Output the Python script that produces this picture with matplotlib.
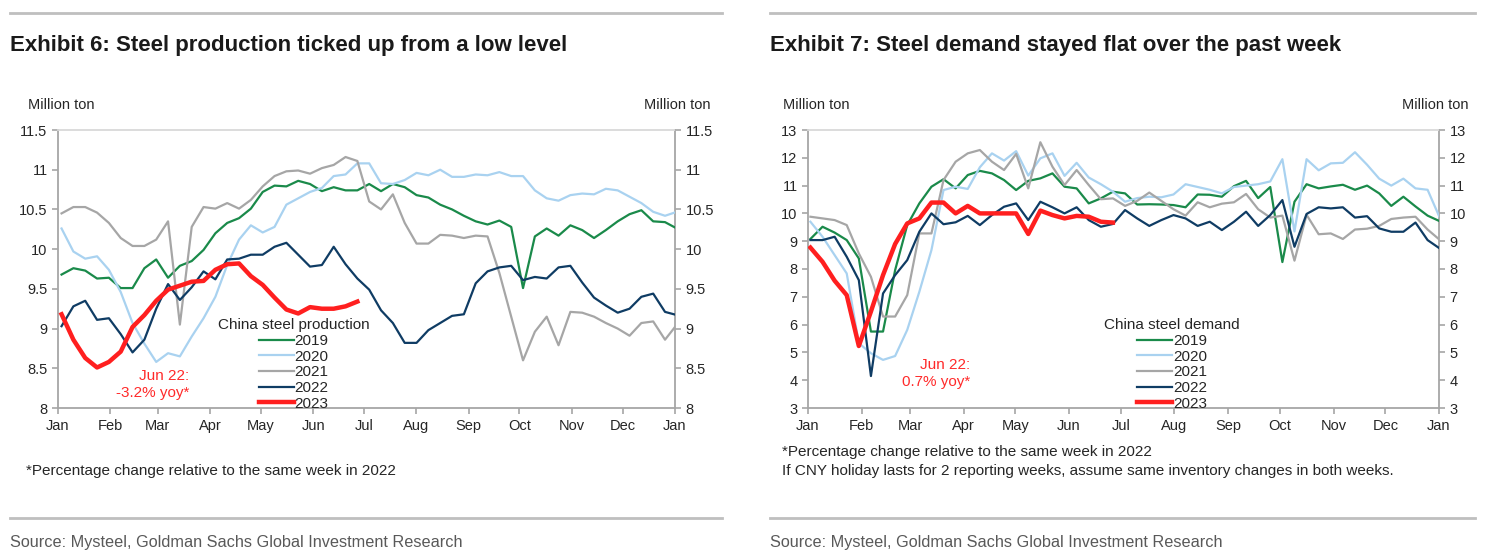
import numpy as np
import matplotlib
matplotlib.use("Agg")
import matplotlib.pyplot as plt

plt.rcParams['font.family'] = ['Liberation Sans', 'DejaVu Sans']

# month ticks (in weeks from 1 Jan)
month_days = [0, 31, 59, 90, 120, 151, 181, 212, 243, 273, 304, 334, 365]
month_labels = ["Jan", "Feb", "Mar", "Apr", "May", "Jun", "Jul", "Aug", "Sep", "Oct", "Nov", "Dec", "Jan"]

# Exhibit 6: China steel production, million ton, weekly
prod_2019 = [9.68, 9.76, 9.73, 9.63, 9.64, 9.51, 9.51, 9.76, 9.87, 9.64, 9.79, 9.85, 9.99, 10.20, 10.33, 10.39,
             10.51, 10.72, 10.80, 10.79, 10.86, 10.82, 10.73, 10.78, 10.74, 10.74, 10.82, 10.73, 10.82, 10.78,
             10.68, 10.65, 10.56, 10.50, 10.42, 10.35, 10.31, 10.36, 10.28, 9.51, 10.16, 10.26, 10.17, 10.30,
             10.24, 10.14, 10.24, 10.35, 10.44, 10.49, 10.35, 10.34, 10.26]
prod_2020 = [10.26, 9.97, 9.88, 9.91, 9.74, 9.46, 9.07, 8.81, 8.58, 8.69, 8.65, 8.90, 9.13, 9.40, 9.80, 10.12,
             10.30, 10.21, 10.28, 10.56, 10.64, 10.72, 10.77, 10.92, 10.94, 11.08, 11.08, 10.83, 10.82, 10.87,
             10.96, 10.93, 11.00, 10.91, 10.91, 10.94, 10.93, 10.97, 10.92, 10.92, 10.74, 10.64, 10.61, 10.68,
             10.70, 10.69, 10.76, 10.74, 10.66, 10.58, 10.47, 10.42, 10.47]
prod_2021 = [10.45, 10.53, 10.53, 10.46, 10.33, 10.14, 10.04, 10.04, 10.12, 10.35, 9.05, 10.28, 10.53, 10.51,
             10.58, 10.51, 10.62, 10.79, 10.92, 10.98, 10.99, 10.95, 11.02, 11.06, 11.16, 11.11, 10.60, 10.50,
             10.69, 10.33, 10.07, 10.07, 10.18, 10.17, 10.14, 10.17, 10.16, 9.70, 9.15, 8.60, 8.96, 9.15, 8.79,
             9.21, 9.20, 9.15, 9.07, 9.00, 8.91, 9.07, 9.09, 8.86, 9.05]
prod_2022 = [9.03, 9.28, 9.35, 9.11, 9.13, 8.93, 8.70, 8.86, 9.25, 9.56, 9.36, 9.52, 9.72, 9.62, 9.87, 9.88,
             9.93, 9.93, 10.03, 10.08, 9.93, 9.78, 9.80, 10.03, 9.81, 9.63, 9.49, 9.23, 9.07, 8.82, 8.82, 8.98,
             9.07, 9.16, 9.18, 9.57, 9.72, 9.77, 9.79, 9.61, 9.65, 9.63, 9.77, 9.79, 9.58, 9.39, 9.29, 9.20,
             9.25, 9.40, 9.44, 9.21, 9.17]
prod_2023 = [9.18, 8.86, 8.63, 8.51, 8.58, 8.71, 9.02, 9.17, 9.35, 9.49, 9.54, 9.59, 9.60, 9.74, 9.81, 9.82,
             9.66, 9.55, 9.39, 9.24, 9.19, 9.27, 9.25, 9.25, 9.28, 9.34]

# Exhibit 7: China steel demand, million ton, weekly
dem_2019 = [9.08, 9.52, 9.31, 9.04, 8.38, 5.75, 5.75, 7.96, 9.58, 10.36, 10.96, 11.23, 10.90, 11.38, 11.53,
            11.44, 11.20, 10.84, 11.17, 11.26, 11.44, 10.96, 10.90, 10.36, 10.54, 10.78, 10.72, 10.32, 10.33,
            10.32, 10.30, 10.22, 10.68, 10.67, 10.60, 10.98, 11.17, 10.55, 10.95, 8.25, 10.42, 11.05, 10.90,
            10.97, 11.03, 10.85, 11.00, 10.72, 10.27, 10.60, 10.25, 9.92, 9.72]
dem_2020 = [9.70, 9.16, 8.50, 7.84, 5.33, 4.97, 4.73, 4.87, 5.81, 7.18, 8.68, 10.84, 10.96, 10.88, 11.66,
            12.16, 11.90, 12.24, 11.36, 11.98, 12.16, 11.35, 11.82, 11.29, 11.05, 10.78, 10.42, 10.55, 10.60,
            10.58, 10.68, 11.05, 10.95, 10.85, 10.72, 10.95, 11.00, 11.05, 11.15, 11.95, 9.35, 11.95, 11.55,
            11.80, 11.82, 12.20, 11.75, 11.25, 11.00, 11.25, 10.90, 10.85, 9.85]
dem_2021 = [9.88, 9.82, 9.76, 9.58, 8.56, 7.72, 6.29, 6.29, 7.06, 9.28, 9.28, 11.20, 11.86, 12.16, 12.28,
            11.86, 11.56, 12.14, 10.90, 12.56, 11.68, 11.02, 11.56, 11.02, 10.51, 10.54, 10.27, 10.45, 10.75,
            10.45, 10.15, 9.92, 10.40, 10.22, 10.35, 10.40, 10.70, 10.15, 9.85, 9.92, 8.30, 9.95, 9.25, 9.28,
            9.08, 9.42, 9.45, 9.55, 9.80, 9.85, 9.88, 9.42, 9.05]
dem_2022 = [9.04, 9.04, 9.16, 8.44, 7.60, 4.15, 7.12, 7.78, 8.32, 9.34, 10.00, 9.61, 9.68, 9.91, 9.58, 9.94,
            10.24, 10.36, 9.76, 10.42, 10.22, 10.00, 10.22, 9.76, 9.52, 9.62, 10.12, 9.82, 9.55, 9.76, 9.94,
            9.82, 9.55, 9.70, 9.40, 9.70, 10.06, 9.55, 9.94, 10.48, 8.80, 9.98, 10.22, 10.18, 10.22, 9.85,
            9.90, 9.46, 9.34, 9.34, 9.67, 9.04, 8.74]
dem_2023 = [8.77, 8.26, 7.58, 7.06, 5.23, 6.47, 7.78, 8.90, 9.64, 9.82, 10.39, 10.39, 10.00, 10.27, 10.00,
            10.00, 10.00, 10.00, 9.26, 10.10, 9.94, 9.82, 9.91, 9.88, 9.70, 9.67]

years = ["2019", "2020", "2021", "2022", "2023"]
colors = ["#1a8a4a", "#a9d2f0", "#a6a6a6", "#0f3c64", "#ff1f1f"]
widths = [1.6, 1.6, 1.6, 1.6, 3.2]

axis_col = "#a6a6a6"
text_col = "#262626"


def draw_panel(ax, series, offset, ylim, yticks, ytlabels, leg_title, leg_x, note_x, note_y, note_text):
    for s, yr, c, lw in zip(series, years, colors, widths):
        x = np.arange(len(s)) + offset
        ax.plot(x, s, color=c, lw=lw, label=yr, zorder=5 if yr == "2023" else 3,
                solid_joinstyle="round")
    ax.set_xlim(0, 365 / 7)
    ax.set_ylim(*ylim)
    ax.set_xticks(np.array(month_days) / 7)
    ax.set_xticklabels(month_labels, fontsize=10.5, color=text_col)
    ax.set_yticks(yticks)
    ax.set_yticklabels(ytlabels, fontsize=10.5, color=text_col)
    for sp in ax.spines.values():
        sp.set_color(axis_col)
        sp.set_linewidth(1.3)
    ax.spines["top"].set_color("#d9d9d9")
    ax.tick_params(axis="both", colors=axis_col, labelcolor=text_col, length=4, width=1.2)
    ax.tick_params(axis="x", pad=4)
    ax2 = ax.twinx()
    ax2.set_ylim(*ylim)
    ax2.set_yticks(yticks)
    ax2.set_yticklabels(ytlabels, fontsize=10.5, color=text_col)
    ax2.tick_params(axis="y", colors=axis_col, labelcolor=text_col, length=4, width=1.2)
    for sp in ax2.spines.values():
        sp.set_visible(False)
    leg = ax.legend(loc="lower center", bbox_to_anchor=(leg_x, -0.01), frameon=False,
                    title=leg_title, fontsize=11, title_fontsize=11, handlelength=2.3,
                    handletextpad=0.05, labelspacing=0.11, borderpad=0, borderaxespad=0)
    leg.get_title().set_color(text_col)
    for t in leg.get_texts():
        t.set_color(text_col)
    ax.text(note_x, note_y, note_text, color="#ff2a2a", fontsize=11, ha="right", va="center",
            linespacing=1.25)


fig = plt.figure(figsize=(14.85, 5.59), dpi=100)

ax_l = fig.add_axes([58 / 1485, 151 / 559, 617 / 1485, 278 / 559])
draw_panel(ax_l, [prod_2019, prod_2020, prod_2021, prod_2022, prod_2023], 0.3, (8, 11.5),
           [8, 8.5, 9, 9.5, 10, 10.5, 11, 11.5], ["8", "8.5", "9", "9.5", "10", "10.5", "11", "11.5"],
           "China steel production", 0.382, 11.1, 8.30, "Jun 22:\n-3.2% yoy*")

ax_r = fig.add_axes([808 / 1485, 151 / 559, 631 / 1485, 278 / 559])
draw_panel(ax_r, [dem_2019, dem_2020, dem_2021, dem_2022, dem_2023], 0.2, (3, 13),
           list(range(3, 14)), [str(v) for v in range(3, 14)],
           "China steel demand", 0.577, 13.4, 4.24, "Jun 22:\n0.7% yoy*")

# header / footer decorations
for x0, x1, title in [
    (10, 722, "Exhibit 6: Steel production ticked up from a low level"),
    (770, 1475, "Exhibit 7: Steel demand stayed flat over the past week"),
]:
    fig.add_artist(plt.Line2D([x0 / 1485, x1 / 1485], [1 - 13 / 559] * 2, color="#bfbfbf", lw=2))
    fig.add_artist(plt.Line2D([x0 / 1485, x1 / 1485], [1 - 518 / 559] * 2, color="#bfbfbf", lw=2))
    fig.text(x0 / 1485, 1 - 45 / 559, title, fontsize=16, fontweight="bold",
             color="#1a1a1a", va="center", ha="left")
    fig.text(x0 / 1485, 1 - 542 / 559, "Source: Mysteel, Goldman Sachs Global Investment Research",
             fontsize=11.7, color="#595959", va="center", ha="left")

fig.text(26 / 1485, 1 - 471 / 559, "*Percentage change relative to the same week in 2022",
         fontsize=11, color=text_col, va="center", ha="left")
fig.text(782 / 1485, 1 - 461.5 / 559,
         "*Percentage change relative to the same week in 2022\n"
         "If CNY holiday lasts for 2 reporting weeks, assume same inventory changes in both weeks.",
         fontsize=11, color=text_col, va="center", ha="left", linespacing=1.5)

# unit labels
for xl, xr in [(28, 710), (783, 1468)]:
    fig.text(xl / 1485, 1 - 105 / 559, "Million ton", fontsize=10.5, color=text_col, va="center", ha="left")
    fig.text(xr / 1485, 1 - 105 / 559, "Million ton", fontsize=10.5, color=text_col, va="center", ha="right")

fig.savefig("out.png", dpi=100)
